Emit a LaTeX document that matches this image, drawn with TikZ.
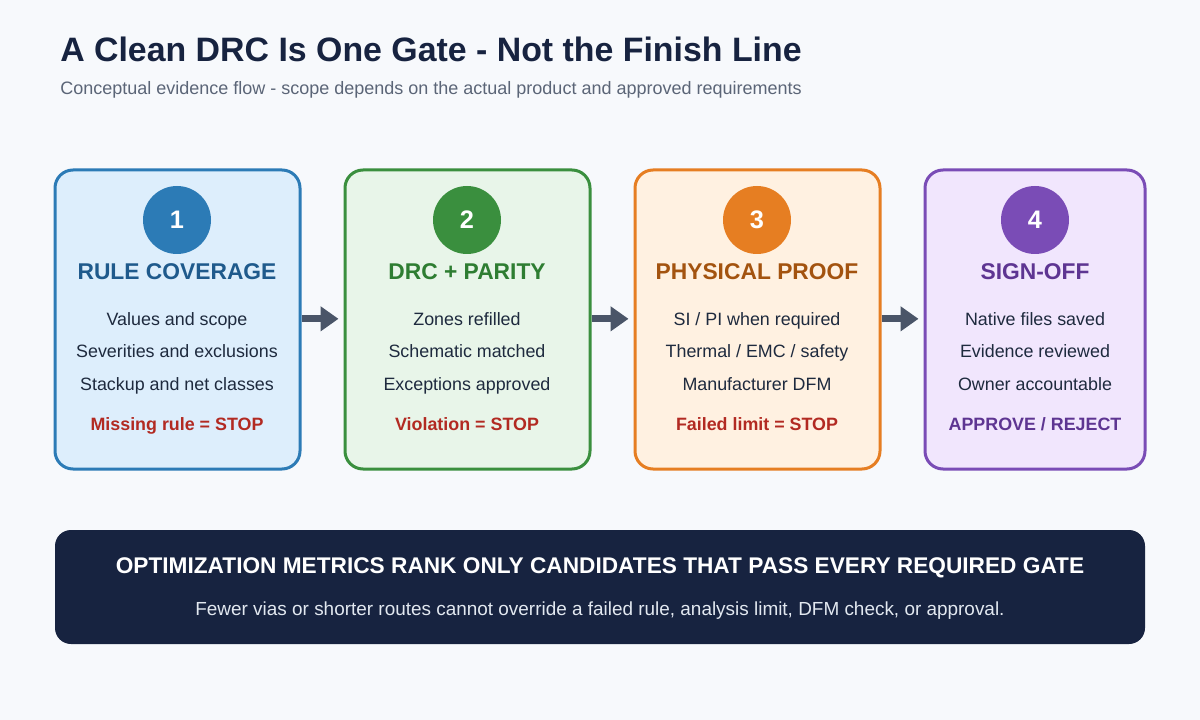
\documentclass[tikz,border=0pt]{standalone}
\usepackage{fontspec}
\setmainfont{Liberation Sans}
\usetikzlibrary{arrows.meta}
\definecolor{bg}{HTML}{F7F9FC}
\definecolor{titlec}{HTML}{172340}
\definecolor{subc}{HTML}{5B6577}
\definecolor{bodyc}{HTML}{1E2A3E}
\definecolor{stopc}{HTML}{B22A22}
\definecolor{arrc}{HTML}{4A5568}
\definecolor{navy}{HTML}{172340}
\definecolor{bansub}{HTML}{E2E8F0}
\definecolor{sA}{HTML}{2C7BB6}\definecolor{fA}{HTML}{DDEEFC}\definecolor{hA}{HTML}{1F5A8C}
\definecolor{sB}{HTML}{3A8F3E}\definecolor{fB}{HTML}{E8F5E9}\definecolor{hB}{HTML}{2E7D32}
\definecolor{sC}{HTML}{E67E22}\definecolor{fC}{HTML}{FFF1E1}\definecolor{hC}{HTML}{A3530F}
\definecolor{sD}{HTML}{7A4CB6}\definecolor{fD}{HTML}{F1E6FD}\definecolor{hD}{HTML}{5E3592}
\tikzset{
  card/.style={draw=#1, line width=2.25pt, rounded corners=13.5pt, minimum height=224.25pt, minimum width=183.75pt, inner sep=0pt},
  badge/.style={circle, fill=#1, minimum size=51pt, inner sep=0pt, text=white, font=\bfseries\fontsize{19}{21}\selectfont},
  head/.style={anchor=base, inner sep=0pt, text=#1, font=\bfseries\fontsize{17.1}{19}\selectfont},
  body/.style={anchor=base, inner sep=0pt, text=bodyc, font=\fontsize{13.4}{15}\selectfont},
  stop/.style={anchor=base, inner sep=0pt, text=#1, font=\bfseries\fontsize{13.4}{15}\selectfont},
  flow/.style={draw=arrc, line width=5pt, -{Triangle[length=13.5pt,width=18pt]}, shorten >=3.75pt},
}
\begin{document}
\begin{tikzpicture}[x=0.75pt,y=-0.75pt]
\useasboundingbox[fill=bg] (0,0) rectangle (1200,720);
\node[anchor=base west, text=titlec, font=\bfseries\fontsize{25.4}{29}\selectfont, inner sep=0pt] (title) at (60,62) {A Clean DRC Is One Gate - Not the Finish Line};
\node[anchor=base west, text=subc, font=\fontsize{13.5}{16}\selectfont, inner sep=0pt] (subtitle) at (60,95) {Conceptual evidence flow - scope depends on the actual product and approved requirements};

\node[card=sA, fill=fA] (b1) at (177.5,319.5) {};
\node[card=sB, fill=fB] (b2) at (467.5,319.5) {};
\node[card=sC, fill=fC] (b3) at (757.5,319.5) {};
\node[card=sD, fill=fD, minimum width=165pt] (b4) at (1035,319.5) {};

\node[badge=sA] (c1) at (177,220) {1};
\node[badge=sB] (c2) at (467,220) {2};
\node[badge=sC] (c3) at (757,220) {3};
\node[badge=sD] (c4) at (1035,220) {4};

\node[head=hA] (h1) at (177,280) {RULE COVERAGE};
\node[head=hB] (h2) at (467,280) {DRC + PARITY};
\node[head=hC] (h3) at (757,280) {PHYSICAL PROOF};
\node[head=hD] (h4) at (1035,280) {SIGN-OFF};

\node[body] (t11) at (177,326) {Values and scope};
\node[body] (t12) at (177,358) {Severities and exclusions};
\node[body] (t13) at (177,390) {Stackup and net classes};
\node[stop=stopc] (s1) at (177,430) {Missing rule = STOP};

\node[body] (t21) at (467,326) {Zones refilled};
\node[body] (t22) at (467,358) {Schematic matched};
\node[body] (t23) at (467,390) {Exceptions approved};
\node[stop=stopc] (s2) at (467,430) {Violation = STOP};

\node[body] (t31) at (757,326) {SI / PI when required};
\node[body] (t32) at (757,358) {Thermal / EMC / safety};
\node[body] (t33) at (757,390) {Manufacturer DFM};
\node[stop=stopc] (s3) at (757,430) {Failed limit = STOP};

\node[body] (t41) at (1035,326) {Native files saved};
\node[body] (t42) at (1035,358) {Evidence reviewed};
\node[body] (t43) at (1035,390) {Owner accountable};
\node[stop=hD] (s4) at (1035,430) {APPROVE / REJECT};

\draw[flow] ([yshift=0.5pt]b1.east) -- ([yshift=0.5pt]b2.west);
\draw[flow] ([yshift=0.5pt]b2.east) -- ([yshift=0.5pt]b3.west);
\draw[flow] ([yshift=0.5pt]b3.east) -- ([yshift=0.5pt]b4.west);

\node[fill=navy, rounded corners=12pt, minimum width=817.5pt, minimum height=85.5pt, inner sep=0pt] (banner) at (600,587) {};
\node[anchor=base, inner sep=0pt, text=white, font=\bfseries\fontsize{17}{20}\selectfont] (bh) at (600,573) {OPTIMIZATION METRICS RANK ONLY CANDIDATES THAT PASS EVERY REQUIRED GATE};
\node[anchor=base, inner sep=0pt, text=bansub, font=\fontsize{14.2}{17}\selectfont] (bs) at (600,615) {Fewer vias or shorter routes cannot override a failed rule, analysis limit, DFM check, or approval.};
\end{tikzpicture}
\end{document}
